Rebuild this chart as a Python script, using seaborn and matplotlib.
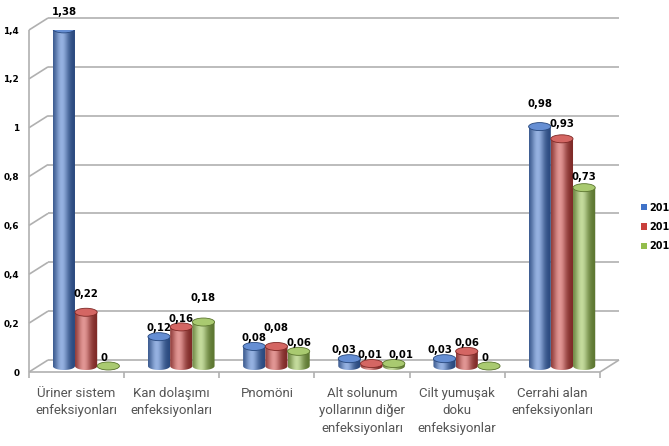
import numpy as np
import pandas as pd
import matplotlib
matplotlib.use("Agg")
import matplotlib.pyplot as plt
import seaborn as sns
from matplotlib.transforms import ScaledTranslation
from matplotlib.patches import Ellipse, Patch, PathPatch
from matplotlib.path import Path
from matplotlib.colors import to_rgb

# ---- data -------------------------------------------------------------
categories = [
    "Üriner sistem\nenfeksiyonları",
    "Kan dolaşımı\nenfeksiyonları",
    "Pnomöni",
    "Alt solunum\nyollarının diğer\nenfeksiyonları",
    "Cilt yumuşak\ndoku\nenfeksiyonlar",
    "Cerrahi alan\nenfeksiyonları",
]
years = ["2016", "2017", "2018"]
rate_2016 = [1.38, 0.12, 0.08, 0.03, 0.03, 0.98]
rate_2017 = [0.22, 0.16, 0.08, 0.01, 0.06, 0.93]
rate_2018 = [0.00, 0.18, 0.06, 0.01, 0.00, 0.73]
y_ticks = [0, 0.2, 0.4, 0.6, 0.8, 1.0, 1.2, 1.4]
y_tick_labels = ["0", "0,2", "0,4", "0,6", "0,8", "1", "1,2", "1,4"]

# per-label nudges (points) of the value labels so neighbours do not collide
lift_2016 = [6, 0, 0, 0, 0, 10]
lift_2017 = [7, 0, 7, 0, 0, 5]
lift_2018 = [0, 11, 0, 0, 0, 2]
shift_2016 = [0, 0, 0, -4, -3, 0]
shift_2017 = [0, 0, 0, -1, 0, 0]
shift_2018 = [-3, 0, 0, 5, -3, 0]

colors = ["#3f72c8", "#c9403c", "#93bd4c"]

df = pd.DataFrame({
    "kategori": np.repeat(categories, len(years)),
    "yil": years * len(categories),
    "oran": np.column_stack([rate_2016, rate_2017, rate_2018]).ravel(),
})

# ---- figure -----------------------------------------------------------
W, H, DPI = 669, 446, 100
fig = plt.figure(figsize=(W / DPI, H / DPI), dpi=DPI)
ax = fig.add_axes([29 / W, (H - 372) / H, (600 - 29) / W, (372 - 30) / H])

sns.barplot(data=df, x="kategori", y="oran", hue="yil", order=categories,
            hue_order=years, palette=colors, width=0.7, legend=False,
            errorbar=None, ax=ax)

YMAX = 1.4
XMIN, XMAX = -0.5, len(categories) - 0.5
ax.set_xlim(XMIN, XMAX)
ax.set_ylim(0, YMAX)

# depth offsets of the pseudo-3D box (back wall and bar plane)
back = ax.transData + ScaledTranslation(19 / DPI, 12 / DPI, fig.dpi_scale_trans)
mid = ax.transData + ScaledTranslation(9.5 / DPI, 6 / DPI, fig.dpi_scale_trans)

px_per_unit = (372 - 30) / YMAX
px_per_cat = 571 / (XMAX - XMIN)
cap = 4.0 / px_per_unit          # half height of the cylinder ellipses

grid_kw = dict(color="#b0b0b0", lw=1.2, solid_capstyle="butt", zorder=1,
               clip_on=False)
for yv in y_ticks:
    ax.plot([XMIN, XMAX], [yv, yv], transform=back, **grid_kw)
# diagonal connectors from the front axis to the back wall
off_x = 19 / px_per_cat
off_y = 12 / px_per_unit
for yv in y_ticks:
    ax.plot([XMIN, XMIN + off_x], [yv, yv + off_y], **grid_kw)
# front axis and floor edges
ax.plot([XMIN, XMIN], [0, YMAX], **grid_kw)
ax.plot([XMIN, XMAX], [0, 0], **grid_kw)
ax.plot([XMAX, XMAX + off_x], [0, off_y], **grid_kw)
for xb in np.arange(XMIN, XMAX + 0.01, 1.0):
    ax.plot([xb, xb], [0, -6 / px_per_unit], **grid_kw)


def cylinder(x0, w, h, base, z):
    base = np.array(to_rgb(base))
    xc = x0 + w / 2
    t = np.linspace(0, 1, 64)
    glow = np.exp(-((t - 0.38) / 0.30) ** 2)
    dark = base * 0.62
    light = base + (1 - base) * 0.45
    row = dark[None, :] * (1 - glow[:, None]) + light[None, :] * glow[:, None]
    img = row[None, :, :]

    ang = np.linspace(np.pi, 2 * np.pi, 40)
    lower = np.column_stack([xc + w / 2 * np.cos(ang), cap * np.sin(ang)])
    verts = np.vstack([lower, [[x0 + w, h], [x0, h], lower[0]]])
    body = PathPatch(Path(verts, closed=True), transform=mid,
                     facecolor="none", edgecolor="none")
    ax.add_patch(body)
    im = ax.imshow(img, extent=[x0, x0 + w, -cap, h], transform=mid,
                   aspect="auto", interpolation="bilinear", zorder=z)
    im.set_clip_path(body)
    top = Ellipse((xc, h), w, 2 * cap, transform=mid, zorder=z + 0.5,
                  facecolor=base + (1 - base) * 0.2,
                  edgecolor=dark, lw=0.6)
    ax.add_patch(top)


lifts = [lift_2016, lift_2017, lift_2018]
shifts = [shift_2016, shift_2017, shift_2018]
for hi, cont in enumerate(ax.containers):
    for ci, bar in enumerate(cont):
        bar.set_visible(False)
        h = bar.get_height()
        x0 = bar.get_x()
        w = bar.get_width()
        cylinder(x0, w, h, colors[hi], 3 + hi)
        label = f"{h:.2f}".replace(".", ",") if h > 0 else "0"
        ax.annotate(label, (x0 + w / 2, h + cap), xycoords=mid,
                    xytext=(shifts[hi][ci], -0.5 + lifts[hi][ci]),
                    textcoords="offset points",
                    ha="center", va="bottom", fontsize=7.3,
                    fontweight="bold", color="black", zorder=10)

ax.set_xlim(XMIN, XMAX)
ax.set_ylim(0, YMAX)
for s in ax.spines.values():
    s.set_visible(False)
ax.set_yticks(y_ticks)
ax.set_yticklabels(y_tick_labels, fontsize=6.4, fontweight="bold",
                   family="DejaVu Sans")
ax.set_xticks(range(len(categories)))
ax.set_xticklabels(categories, fontsize=9.5, color="#555555",
                   family="Roboto", fontweight="normal",
                   linespacing=1.42)
ax.tick_params(axis="both", length=0)
ax.tick_params(axis="x", pad=11)
ax.tick_params(axis="y", pad=7)
ax.set_xlabel("")
ax.set_ylabel("")
ax.patch.set_alpha(0)

handles = [Patch(facecolor=c, edgecolor="none") for c in colors]
fig.legend(handles, years, loc="center left", bbox_to_anchor=(641 / W, 1 - 227 / H),
           frameon=False, handlelength=0.6, handleheight=0.6,
           handletextpad=0.3, labelspacing=0.95,
           prop=dict(size=7, weight="bold"), borderpad=0, borderaxespad=0)

fig.savefig("out.png", dpi=DPI, facecolor="white")
